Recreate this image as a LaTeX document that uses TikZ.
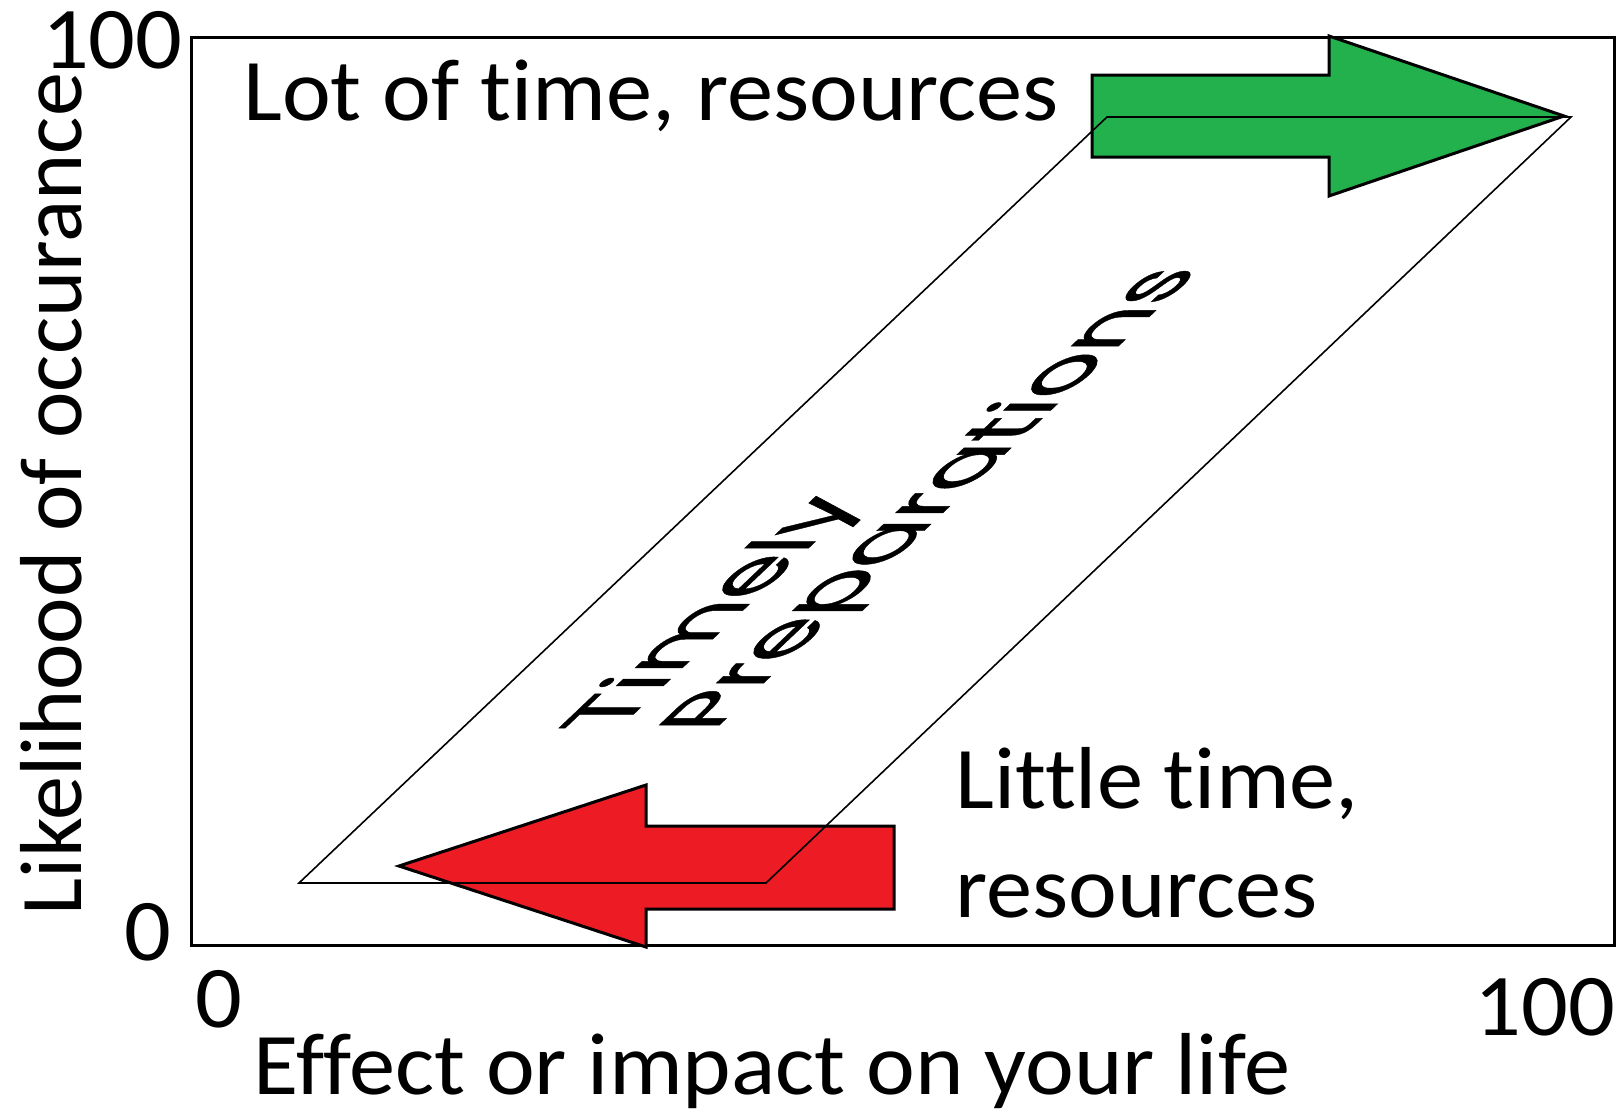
\documentclass[tikz,border=0pt]{standalone}
\usepackage{fontspec}
\setmainfont[Ligatures=NoCommon]{Carlito}
\newfontfamily\widefont[Ligatures=NoCommon,FakeStretch=1.05]{Carlito}
\newfontfamily\geofont[FakeBold=0.6]{Poppins}
\definecolor{arrowgreen}{RGB}{35,177,77}
\definecolor{arrowred}{RGB}{237,28,36}
\begin{document}
\begin{tikzpicture}[x=0.5pt,y=-0.5pt,
  lbl/.style={inner sep=0pt, font=\widefont\fontsize{44}{53}\selectfont},
  vlbl/.style={inner sep=0pt, font=\fontsize{44}{53}\selectfont},
  warp/.style={inner sep=0pt, anchor=base west, transform shape, font=\geofont\fontsize{40}{48}\selectfont},
  bigarrow/.style={draw=black, line width=1.5pt, line join=miter},
  frame/.style={draw=black, line width=1.5pt},
  band/.style={draw=black, line width=0.8pt}]
\useasboundingbox (0,0) rectangle (1619,1114);
% plot frame
\draw[frame] (191,37) rectangle (1614,945);
% axis numbers
\node[lbl, anchor=base east] (y100) at (183,68) {100};
\node[lbl, anchor=base east] (y0) at (172,960) {0};
\node[lbl, anchor=base] (x0) at (219,1027) {0};
\node[lbl, anchor=base] (x100) at (1545,1035) {100};
% axis titles
\node[lbl, anchor=base] (xt) at (772,1094) {Effect or impact on your life};
\node[vlbl, anchor=base, rotate=90] (yt) at (82,494) {Likelihood of occurance};
% corner labels
\node[lbl, anchor=base west] (lot) at (243,120) {Lot of time, resources};
\node[lbl, anchor=base west] (lit1) at (955,808) {Little time,};
\node[lbl, anchor=base west] (lit2) at (955,917) {resources};
% arrows
\draw[bigarrow, fill=arrowgreen] (1092,75) -- (1329,75) -- (1329,36) -- (1564,116) -- (1329,196) -- (1329,157) -- (1092,157) -- cycle;
\draw[bigarrow, fill=arrowred] (894,826) -- (646,826) -- (646,785) -- (399,866) -- (646,947) -- (646,909) -- (894,909) -- cycle;
% diagonal band
\coordinate (p1) at (299,883);
\coordinate (p2) at (766,883);
\coordinate (p3) at (1571,117);
\coordinate (p4) at (1107,117);
\draw[band] (p1) -- (p2) -- (p3) -- (p4) -- cycle;
% warped text
\begin{scope}[cm={0.955,0.907,-1.08,0,(616,731)}]
  \node[warp] (tw1) at (0,0) {Timely};
  \node[warp] (tw2) at (0,90) {Preparations};
\end{scope}
\end{tikzpicture}
\end{document}
